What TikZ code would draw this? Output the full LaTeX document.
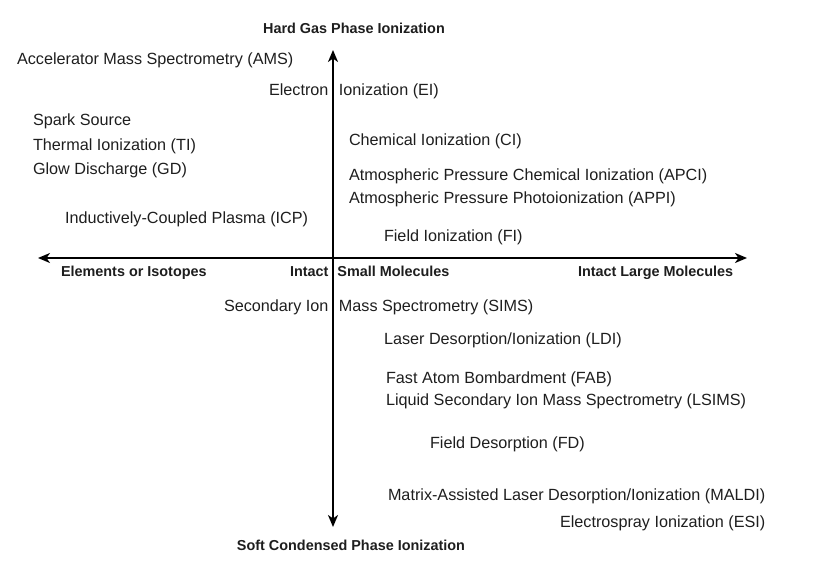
\documentclass[tikz,border=0pt]{standalone}
\usepackage{fontspec}
\setmainfont{Liberation Sans}
\usepackage{xcolor}
\usepackage{tikz}
\usetikzlibrary{arrows.meta}
\definecolor{axiscol}{RGB}{0,0,0}
\definecolor{labelcol}{RGB}{30,30,30}

\begin{document}
\begin{tikzpicture}[x=1pt, y=-1pt,
    every node/.style={inner sep=0pt, outer sep=0pt, text=labelcol,
      font=\fontsize{16.2}{19}\selectfont},
    method/.style={anchor=base west},
    axislabel/.style={anchor=base west, font=\fontsize{14.4}{17}\selectfont\bfseries},
    axis/.style={axiscol, line width=1.9pt,
      {Stealth[length=12pt, width=10pt, inset=3.5pt]}-{Stealth[length=12pt, width=10pt, inset=3.5pt]}}]

    %% Frame (keeps the page at 819 x 565)
    \useasboundingbox (0,0) rectangle (819,565);

    %% Axis end points
    \coordinate (hard) at (333,50);
    \coordinate (soft) at (333,527);
    \coordinate (elem) at (38,258);
    \coordinate (large) at (747,258);

    %% Hard gas phase side (above the horizontal axis)
    \node[method] (ams) at (17,64) {Accelerator Mass Spectrometry (AMS)};
    \node[method] (ei) at (269,95) {Electron \hspace{6pt}Ionization (EI)};
    \node[method] (spark) at (33,125) {Spark Source};
    \node[method] (ti) at (33,150) {Thermal Ionization (TI)};
    \node[method] (gd) at (33,174) {Glow Discharge (GD)};
    \node[method] (ci) at (349,145) {Chemical Ionization (CI)};
    \node[method] (apci) at (349,180) {Atmospheric Pressure Chemical Ionization (APCI)};
    \node[method] (appi) at (349,203) {Atmospheric Pressure Photoionization (APPI)};
    \node[method] (icp) at (65,223) {Inductively-Coupled Plasma (ICP)};
    \node[method] (fi) at (384,241) {Field Ionization (FI)};

    %% Soft condensed phase side (below the horizontal axis)
    \node[method] (sims) at (224,311) {Secondary Ion \hspace{6pt}Mass Spectrometry (SIMS)};
    \node[method] (ldi) at (384,344) {Laser Desorption/Ionization (LDI)};
    \node[method] (fab) at (386,383) {Fast Atom Bombardment (FAB)};
    \node[method] (lsims) at (386,405) {Liquid Secondary Ion Mass Spectrometry (LSIMS)};
    \node[method] (fd) at (430,448) {Field Desorption (FD)};
    \node[method] (maldi) at (388,500) {Matrix-Assisted Laser Desorption/Ionization (MALDI)};
    \node[method] (esi) at (560,527) {Electrospray Ionization (ESI)};

    %% Axes
    \draw[axis] (elem) -- (large);
    \draw[axis] (soft) -- (hard);

    %% Axis labels
    \node[axislabel, anchor=base] (hardlbl) at (354,33) {Hard Gas Phase Ionization};
    \node[axislabel, anchor=base] (softlbl) at (351,550) {Soft Condensed Phase Ionization};
    \node[axislabel] (elemlbl) at (61,276) {Elements or Isotopes};
    \node[axislabel] (smalllbl) at (290,276) {Intact \hspace{5pt}Small Molecules};
    \node[axislabel] (largelbl) at (578,276) {Intact Large Molecules};

  \end{tikzpicture}
\end{document}
